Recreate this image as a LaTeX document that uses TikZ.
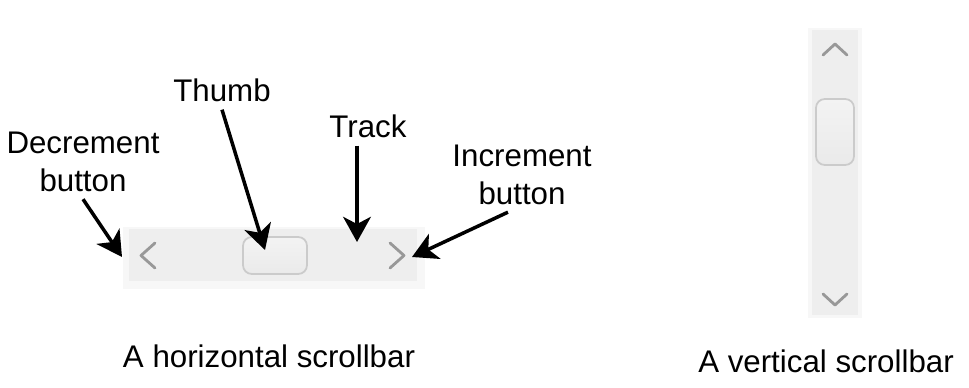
\documentclass[tikz,border=0pt]{standalone}
\usepackage{fontspec}
\setmainfont{Liberation Sans}
\definecolor{trackColour}{RGB}{238,238,238}
\definecolor{shadowColour}{RGB}{247,247,247}
\definecolor{thumbColour}{RGB}{243,243,243}
\definecolor{thumbColour2}{RGB}{234,234,234}
\definecolor{thumbEdge}{RGB}{203,203,203}
\definecolor{chevronColour}{RGB}{152,152,152}
\usetikzlibrary{
    arrows.meta,
    positioning
}

\begin{document}
\begin{tikzpicture}[
        x=0.02cm, y=-0.02cm,
        labelnode/.style={font=\fontsize{17.8}{21.5}\selectfont, inner sep=4pt, align=center},
        shadownode/.style={rectangle, fill=shadowColour, inner sep=0pt},
        tracknode/.style={rectangle, fill=trackColour, inner sep=0pt},
        thumbnode/.style={rectangle, rounded corners=5pt, top color=thumbColour, bottom color=thumbColour2, draw=thumbEdge, line width=1pt, inner sep=0pt},
        chevron/.style={draw=chevronColour, line width=1.6pt, line cap=round, line join=round},
    ]
    \useasboundingbox (0,0) rectangle (969,388);

    % horizontal bar
    \begin{scope}
        \node[shadownode, minimum width=6.04cm, minimum height=1.24cm] (h_shadow) at (274,258) {};
        \node[tracknode, minimum width=5.76cm, minimum height=1.04cm] (h_track) at (273,255) {};
        \node[thumbnode, minimum width=1.28cm, minimum height=0.74cm] (h_thumb) at (275,255.5) {};
        \draw[chevron] (155,243) -- (141,255.5) -- (155,268);
        \draw[chevron] (390,243) -- (404,255.5) -- (390,268);
    \end{scope}

    % vertical bar
    \begin{scope}
        \node[shadownode, minimum width=1.08cm, minimum height=5.8cm] (v_shadow) at (835,173) {};
        \node[tracknode, minimum width=0.92cm, minimum height=5.7cm] (v_track) at (835,172.5) {};
        \node[thumbnode, minimum width=0.76cm, minimum height=1.32cm] (v_thumb) at (835,132) {};
        \draw[chevron] (823,55) -- (835,44) -- (847,55);
        \draw[chevron] (823,294) -- (835,305) -- (847,294);
    \end{scope}

    % labels
    \node[labelnode] (dec_lbl) at (83,162) {Decrement\\button};
    \node[labelnode, anchor=base] (thumb_lbl) at (222,102) {Thumb};
    \node[labelnode, anchor=base] (track_lbl) at (368,138) {Track};
    \node[labelnode] (inc_lbl) at (522,175) {Increment\\button};
    \node[labelnode, anchor=base] (h_caption) at (269,367) {A horizontal scrollbar};
    \node[labelnode, anchor=base] (v_caption) at (826,372) {A vertical scrollbar};

    \coordinate (dec_tip) at (122,257);
    \coordinate (thumb_tip) at (265,250);
    \coordinate (track_tip) at (357,242);
    \coordinate (inc_tip) at (412,257);

    \begin{scope}[>={Stealth[length=0.5cm, width=0.55cm, inset=0.14cm]},
                  every edge/.style={draw=black, line width=2pt}]
        \path [->] (dec_lbl.south) edge (dec_tip);
        \path [->] (thumb_lbl.south) edge (thumb_tip);
        \path [->] (track_tip |- track_lbl.south) edge [line width=2.8pt] (track_tip);
        \path [->] ([xshift=-8pt]inc_lbl.south) edge (inc_tip);
    \end{scope}
\end{tikzpicture}
\end{document}
